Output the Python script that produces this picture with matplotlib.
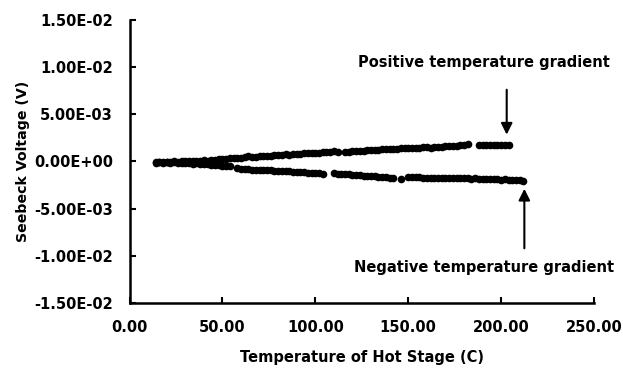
import matplotlib
matplotlib.use("Agg")
import matplotlib.pyplot as plt

# Positive temperature gradient (temperature in C, voltage in mV)
pos_x = [14, 16, 18, 20, 22, 24, 26, 28, 30, 32, 34, 36, 38, 40, 42, 44, 46, 48, 50, 52,
         54, 56, 58, 60, 62, 64, 66, 68, 70, 72, 74, 76, 78, 80, 82, 84, 86, 88, 90, 92,
         94, 96, 98, 100, 102, 104, 106, 108, 110, 112,
         116, 118, 120, 122, 124, 126, 128, 130, 132, 134, 136, 138, 140, 142, 144, 146,
         148, 150, 152, 154, 156, 158, 160, 162, 164, 166, 168, 170, 172, 174, 176, 178,
         180, 182,
         188, 190, 192, 194, 196, 198, 200, 202, 204]
pos_mv = [-0.15, -0.1, -0.1, -0.05, -0.1, 0.0, -0.05, 0.05, 0.0, 0.05, 0.1, 0.05, 0.1, 0.15,
          0.1, 0.2, 0.2, 0.25, 0.3, 0.3, 0.35, 0.4, 0.4, 0.35, 0.45, 0.55, 0.5, 0.5, 0.55,
          0.6, 0.55, 0.6, 0.65, 0.7, 0.65, 0.75, 0.7, 0.75, 0.8, 0.8, 0.85, 0.85, 0.9, 0.9,
          0.95, 1.0, 1.05, 1.05, 1.1, 1.05,
          1.0, 1.05, 1.1, 1.1, 1.15, 1.15, 1.2, 1.2, 1.25, 1.25, 1.3, 1.3, 1.35, 1.3, 1.35,
          1.4, 1.4, 1.45, 1.4, 1.45, 1.45, 1.5, 1.5, 1.45, 1.5, 1.55, 1.55, 1.6, 1.6, 1.65,
          1.65, 1.7, 1.8, 1.9,
          1.75, 1.8, 1.75, 1.75, 1.7, 1.75, 1.75, 1.7, 1.75]

# Negative temperature gradient
neg_x = [14, 16, 18, 20, 22, 24, 26, 28, 30, 32, 34, 36, 38, 40, 42, 44, 46, 48, 50, 52, 54,
         58, 60, 62, 64, 66, 68, 70, 72, 74, 76, 78, 80, 82, 84, 86, 88, 90, 92, 94, 96, 98,
         100, 102, 104,
         110, 112, 114, 116, 118, 120, 122, 124, 126, 128, 130, 132, 134, 136, 138, 140, 142,
         146,
         150, 152, 154, 156, 158, 160, 162, 164, 166, 168, 170, 172, 174, 176, 178, 180, 182,
         184, 186, 188, 190, 192, 194, 196, 198, 200, 202, 204, 206, 208, 210, 212]
neg_mv = [-0.1, -0.1, -0.15, -0.1, -0.15, -0.1, -0.15, -0.2, -0.15, -0.2, -0.25, -0.2, -0.25,
          -0.3, -0.3, -0.35, -0.35, -0.4, -0.45, -0.45, -0.5,
          -0.7, -0.75, -0.8, -0.8, -0.85, -0.9, -0.85, -0.9, -0.95, -0.95, -1.0, -1.0, -1.05,
          -1.0, -1.05, -1.1, -1.1, -1.15, -1.15, -1.2, -1.2, -1.25, -1.25, -1.3,
          -1.25, -1.3, -1.3, -1.35, -1.35, -1.4, -1.4, -1.45, -1.5, -1.5, -1.55, -1.55, -1.6,
          -1.6, -1.65, -1.7, -1.75,
          -1.85,
          -1.65, -1.6, -1.65, -1.65, -1.7, -1.7, -1.7, -1.75, -1.75, -1.7, -1.75, -1.75, -1.8,
          -1.75, -1.8, -1.8, -1.8, -1.85, -1.8, -1.85, -1.85, -1.9, -1.85, -1.9, -1.9, -1.95,
          -1.9, -1.95, -2.0, -1.95, -2.0, -2.05]

x_ticks = [0, 50, 100, 150, 200, 250]
x_tick_labels = ["0.00", "50.00", "100.00", "150.00", "200.00", "250.00"]
y_ticks = [0.015, 0.01, 0.005, 0.0, -0.005, -0.01, -0.015]
y_tick_labels = ["1.50E-02", "1.00E-02", "5.00E-03", "0.00E+00", "-5.00E-03", "-1.00E-02", "-1.50E-02"]

plt.rcParams['font.family'] = ['DejaVu Sans']
plt.rcParams['font.weight'] = 'bold'

fig = plt.figure(figsize=(6.23, 3.73), dpi=100)
ax = fig.add_axes([0.2079, 0.1877, 0.7456, 0.7587])

ax.plot(pos_x, [v * 1e-3 for v in pos_mv], 'o', color='black', markersize=5.5, markeredgewidth=0)
ax.plot(neg_x, [v * 1e-3 for v in neg_mv], 'o', color='black', markersize=5.5, markeredgewidth=0)

ax.set_xlim(0, 250)
ax.set_ylim(-0.015, 0.015)
ax.set_xticks(x_ticks)
ax.set_xticklabels(x_tick_labels, fontsize=10.5, fontweight='bold')
ax.set_yticks(y_ticks)
ax.set_yticklabels(y_tick_labels, fontsize=10.5, fontweight='bold')
ax.tick_params(axis='both', direction='in', length=4, width=1.5, pad=12)

for s in ['top', 'right']:
    ax.spines[s].set_visible(False)
for s in ['left', 'bottom']:
    ax.spines[s].set_linewidth(1.8)

ax.set_xlabel("Temperature of Hot Stage (C)", fontsize=10.5, fontweight='bold', labelpad=11)
ax.set_ylabel("Seebeck Voltage (V)", fontsize=10.2, fontweight='bold', labelpad=3)

ax.annotate('', xy=(203, 0.00255), xytext=(203, 0.0079),
            arrowprops=dict(arrowstyle='-|>', color='black', lw=1.5, mutation_scale=17))
ax.annotate('', xy=(212.5, -0.0026), xytext=(212.5, -0.0095),
            arrowprops=dict(arrowstyle='-|>', color='black', lw=1.5, mutation_scale=17))

ax.text(191, 0.0105, "Positive temperature gradient", ha='center', va='center',
        fontsize=10.5, fontweight='bold', clip_on=False)
ax.text(191, -0.0112, "Negative temperature gradient", ha='center', va='center',
        fontsize=10.5, fontweight='bold', clip_on=False)

fig.savefig("out.png", dpi=100)
